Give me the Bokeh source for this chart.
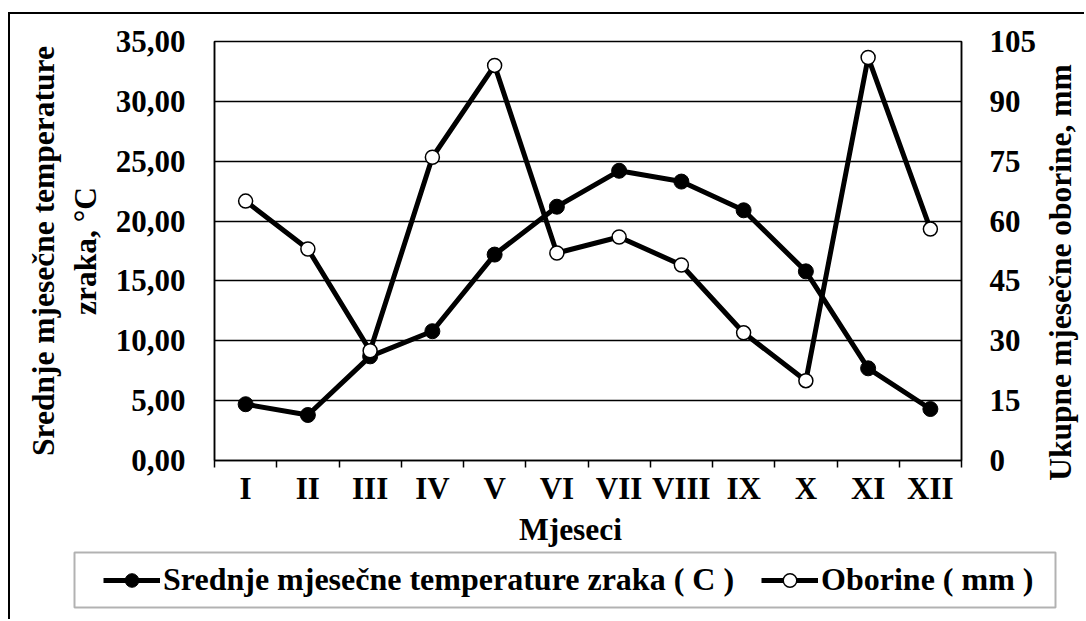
from bokeh.plotting import figure
from bokeh.layouts import column, row
from bokeh.models import (Range1d, LinearAxis, FixedTicker, Legend, LegendItem, Label,
                          BoxAnnotation, Spacer)
from bokeh.embed import file_html
from bokeh.resources import INLINE

# ---------------- data ----------------
months = ["I", "II", "III", "IV", "V", "VI", "VII", "VIII", "IX", "X", "XI", "XII"]
temperature = [4.7, 3.8, 8.7, 10.8, 17.2, 21.2, 24.2, 23.3, 20.9, 15.8, 7.7, 4.3]
precipitation = [65, 53, 27.5, 76, 99, 52, 56, 49, 32, 20, 101, 58]
temp_ticks = [0, 5, 10, 15, 20, 25, 30, 35]
temp_tick_labels = ["0,00", "5,00", "10,00", "15,00", "20,00", "25,00", "30,00", "35,00"]
prec_ticks = [0, 15, 30, 45, 60, 75, 90, 105]

temp_label = "Srednje mjesečne temperature zraka ( C )"
prec_label = "Oborine ( mm )"
left_title = "Srednje mjesečne temperature\nzraka, °C"
right_title = "Ukupne mjesečne oborine, mm"
x_title = "Mjeseci"

FONT = "Liberation Serif"
FS = "31px"
FS_T = "31.5px"
FS_L = "32px"

# ---------------- layout (page pixels) ----------------
OX, OY = 10, 14                      # content origin inside the bordered box
FL, FR, FT, FB = 214, 961, 41, 461   # plot frame
WP, H1 = 1029, 494                   # main figure
W3 = 45                              # right-title strip
SHIFT = 42                           # right title sits lower than the frame centre
H2 = 111                             # bottom strip (x title + legend)
W2 = WP + W3
BT, BB = FT - OY, OY + H1 - FB       # top / bottom borders of the main figure

xs = list(range(1, len(months) + 1))

p = figure(width=WP, height=H1, output_backend="svg", toolbar_location=None,
           x_range=Range1d(0.5, len(months) + 0.5), y_range=Range1d(0, 35),
           min_border_left=FL - OX, min_border_right=OX + WP - FR,
           min_border_top=BT, min_border_bottom=BB)
p.extra_y_ranges = {"prec": Range1d(0, 105)}

p.outline_line_color = "black"
p.outline_line_width = 1.5
p.xgrid.visible = False
p.ygrid.grid_line_color = "black"
p.ygrid.grid_line_width = 1.5
p.ygrid.ticker = FixedTicker(ticks=temp_ticks)


def style_labels(ax):
    ax.major_label_text_font = FONT
    ax.major_label_text_font_style = "bold"
    ax.major_label_text_font_size = FS
    ax.major_label_text_color = "black"
    ax.axis_label_text_font = FONT
    ax.axis_label_text_font_style = "bold"
    ax.axis_label_text_font_size = FS_T
    ax.axis_label_text_color = "black"


# left axis
ya = p.yaxis[0]
ya.ticker = FixedTicker(ticks=temp_ticks)
ya.major_label_overrides = {t: l for t, l in zip(temp_ticks, temp_tick_labels)}
ya.major_tick_line_color = None
ya.minor_tick_line_color = None
ya.major_tick_out = 0
ya.major_tick_in = 0
ya.axis_line_color = "black"
ya.axis_line_width = 1.5
ya.major_label_standoff = 29
style_labels(ya)
ya.axis_label = left_title
ya.axis_label_standoff = 10

# right axis
ra = LinearAxis(y_range_name="prec", ticker=FixedTicker(ticks=prec_ticks))
ra.major_tick_line_color = None
ra.minor_tick_line_color = None
ra.major_tick_out = 0
ra.major_tick_in = 0
ra.axis_line_color = "black"
ra.axis_line_width = 1.5
ra.major_label_standoff = 28
style_labels(ra)
p.add_layout(ra, "right")

# bottom axis with boundary ticks
xa = p.xaxis[0]
bounds = [i + 0.5 for i in range(len(months) + 1)]
xa.ticker = FixedTicker(ticks=bounds)
xa.major_label_overrides = {b: "" for b in bounds}
xa.major_label_text_font_size = "1px"
xa.major_label_standoff = 0
xa.major_tick_out = 7
xa.major_tick_in = 0
xa.major_tick_line_width = 1.5
xa.major_tick_line_color = "black"
xa.minor_tick_line_color = None
xa.axis_line_color = "black"
xa.axis_line_width = 1.5

# bottom axis with month labels
ma = LinearAxis(ticker=FixedTicker(ticks=xs))
ma.major_label_overrides = {x: m for x, m in zip(xs, months)}
ma.major_tick_line_color = None
ma.minor_tick_line_color = None
ma.axis_line_color = None
ma.major_label_standoff = -3
style_labels(ma)
p.add_layout(ma, "below")

# series
l1 = p.line(xs, temperature, line_color="black", line_width=5)
s1 = p.scatter(xs, temperature, size=15, fill_color="black", line_color="black")
l2 = p.line(xs, precipitation, y_range_name="prec", line_color="black", line_width=5)
s2 = p.scatter(xs, precipitation, y_range_name="prec", size=14, fill_color="white",
               line_color="black", line_width=1.5)

# ---------------- right title strip (an axis title reading upward) ----------------
p3 = figure(width=W3, height=H1 - SHIFT, output_backend="svg", toolbar_location=None,
            x_range=Range1d(0, 1), y_range=Range1d(0, 1), x_axis_location=None,
            min_border_left=30, min_border_right=0,
            min_border_top=BT, min_border_bottom=BB)
p3.grid.visible = False
p3.outline_line_color = None
t3 = p3.yaxis[0]
t3.ticker = FixedTicker(ticks=[])
t3.axis_line_color = None
t3.major_tick_line_color = None
t3.minor_tick_line_color = None
t3.major_tick_out = 0
t3.major_tick_in = 0
t3.major_label_standoff = 0
t3.axis_label = right_title
t3.axis_label_standoff = 0
t3.axis_label_text_font = FONT
t3.axis_label_text_font_style = "bold"
t3.axis_label_text_font_size = FS_T
t3.axis_label_text_color = "black"

# ---------------- bottom strip: x title and legend ----------------
p2 = figure(width=W2, height=H2, output_backend="svg", toolbar_location=None,
            x_range=Range1d(0, W2), y_range=Range1d(0, H2),
            x_axis_location=None, y_axis_location=None, min_border=0)
p2.grid.visible = False
p2.outline_line_color = None
BOT = OY + H1 + H2   # page y of the strip's bottom edge

p2.add_layout(Label(x=570 - OX, y=BOT - 529, text=x_title,
                    text_align="center", text_baseline="middle", text_font=FONT,
                    text_font_style="bold", text_font_size=FS_T, text_color="black"))

p2.add_layout(BoxAnnotation(left=74 - OX, right=1055 - OX, bottom=BOT - 607, top=BOT - 552,
                            fill_color="white", fill_alpha=1.0, line_color="black",
                            line_width=2, level="underlay"))

# legend handles: same styles as the series (kept hidden in this strip)
h1 = p2.line(xs, temperature, line_color="black", line_width=5, visible=False)
h2 = p2.scatter(xs, temperature, size=15, fill_color="black", line_color="black",
                visible=False)
h3 = p2.line(xs, precipitation, line_color="black", line_width=5, visible=False)
h4 = p2.scatter(xs, precipitation, size=14, fill_color="white", line_color="black",
                line_width=1.5, visible=False)

legend = Legend(items=[LegendItem(label=temp_label, renderers=[h1, h2]),
                       LegendItem(label=prec_label, renderers=[h3, h4])],
                orientation="horizontal", location=(103 - OX, BOT - 598),
                padding=0, margin=0, spacing=27, glyph_width=57, glyph_height=34,
                label_standoff=3, border_line_color=None, background_fill_alpha=0,
                label_text_font=FONT, label_text_font_style="bold",
                label_text_font_size=FS_L, label_text_color="black")
p2.add_layout(legend, "center")

right_strip = column(Spacer(width=W3, height=SHIFT), p3)
layout = column(row(p, right_strip), p2, margin=(12, 0, 0, 8),
                styles={"border-left": "2px solid black", "border-top": "2px solid black"})

open("out.html", "w").write(file_html(layout, INLINE))
